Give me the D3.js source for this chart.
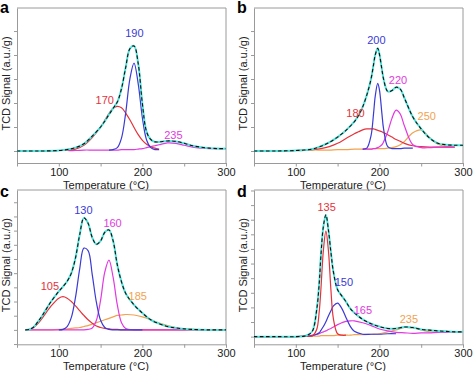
<!DOCTYPE html>
<html>
<head>
<meta charset="utf-8">
<script src="https://cdnjs.cloudflare.com/ajax/libs/d3/7.8.5/d3.min.js"></script>
<style>
  html, body { margin: 0; padding: 0; background: #fff; }
  svg { display: block; font-family: "Liberation Sans", Arial, sans-serif; }
</style>
</head>
<body>
<svg id="chart" width="474" height="371"></svg>
<script>
// ---- data (signal in arbitrary units) ----
// panel a
const tempA = [50, 75, 100, 110, 120, 130, 140, 150, 155, 160, 165, 170, 175, 180, 185, 190, 195, 200, 205, 210, 215, 220, 230, 240, 250, 260, 270, 280, 290, 300];
const totalA = [0, 0, 0.01, 0.03, 0.07, 0.15, 0.31, 0.50, 0.62, 0.76, 0.89, 1.02, 1.30, 1.74, 2.13, 2.19, 1.82, 0.98, 0.40, 0.24, 0.19, 0.19, 0.21, 0.20, 0.16, 0.11, 0.08, 0.06, 0.05, 0.05];
const redA = [0, 0, 0.01, 0.02, 0.04, 0.12, 0.28, 0.50, 0.64, 0.78, 0.89, 0.93, 0.90, 0.79, 0.65, 0.49, 0.34, 0.22, 0.14, 0.09, 0.06, 0.04, null, null, null, null, null, null, null, null];
const blueA = [null, null, null, null, null, null, null, null, null, 0.02, 0.03, 0.07, 0.27, 0.79, 1.50, 1.83, 1.40, 0.69, 0.23, 0.07, 0.03, 0.03, null, null, null, null, null, null, null, null];
const magentaA = [0, 0, 0.01, 0.01, 0.01, 0.02, 0.02, 0.02, 0.02, 0.02, 0.02, 0.02, 0.03, 0.03, 0.03, 0.03, 0.04, 0.05, 0.07, 0.09, 0.11, 0.13, 0.17, 0.16, 0.12, 0.08, 0.06, 0.05, 0.05, 0.05];

// panel b
const tempB = [50, 75, 100, 110, 120, 130, 140, 150, 160, 170, 175, 180, 185, 190, 193, 195, 198, 200, 203, 205, 210, 215, 220, 225, 230, 240, 250, 260, 270, 280, 290, 300];
const totalB = [0, 0, 0.01, 0.02, 0.04, 0.10, 0.18, 0.29, 0.43, 0.61, 0.74, 0.92, 1.17, 1.50, 1.80, 2.00, 2.14, 2.02, 1.70, 1.50, 1.24, 1.26, 1.33, 1.29, 1.10, 0.71, 0.46, 0.27, 0.16, 0.13, 0.12, 0.12];
const redB = [0, 0, 0.01, 0.02, 0.03, 0.05, 0.09, 0.16, 0.26, 0.36, 0.40, 0.44, 0.46, 0.46, 0.46, 0.45, 0.43, 0.42, 0.40, 0.38, 0.34, 0.29, 0.24, 0.20, 0.16, 0.11, 0.09, 0.08, 0.08, 0.08, 0.08, null];
const blueB = [null, null, null, null, null, null, null, null, null, null, null, 0.04, 0.06, 0.32, 0.78, 1.14, 1.41, 1.28, 0.78, 0.46, 0.09, 0.05, 0.05, 0.05, 0.06, 0.06, null, null, null, null, null, null];
const magentaB = [null, null, null, null, null, null, null, null, null, null, null, 0.04, 0.04, 0.04, 0.05, 0.05, 0.07, 0.09, 0.13, 0.19, 0.40, 0.68, 0.85, 0.77, 0.52, 0.13, 0.07, 0.07, 0.08, 0.08, 0.08, null];
const orangeB = [0, 0, 0.01, 0.01, 0.02, 0.02, 0.02, 0.03, 0.03, 0.04, 0.04, 0.04, 0.04, 0.04, 0.05, 0.05, 0.05, 0.05, 0.05, 0.05, 0.06, 0.07, 0.09, 0.13, 0.20, 0.38, 0.44, 0.28, 0.14, 0.09, 0.08, null];

// panel c
const tempC = [60, 65, 70, 75, 80, 90, 100, 105, 110, 115, 120, 125, 130, 135, 140, 145, 150, 155, 160, 165, 170, 175, 180, 190, 200, 210, 220, 230, 240, 250, 260, 280, 300];
const totalC = [0, 0.01, 0.06, 0.17, 0.29, 0.57, 0.80, 0.90, 1.01, 1.18, 1.50, 1.98, 2.33, 2.22, 1.92, 1.78, 1.85, 2.03, 2.08, 1.85, 1.35, 1.00, 0.76, 0.52, 0.35, 0.21, 0.13, 0.07, 0.04, 0.02, 0.01, 0, 0];
const redC = [0, 0.01, 0.05, 0.13, 0.24, 0.48, 0.66, 0.69, 0.66, 0.59, 0.50, 0.40, 0.30, 0.21, 0.14, 0.08, 0.05, 0.03, 0.02, 0.01, 0.01, 0, 0, 0, 0, 0, 0, 0, 0, 0, 0, 0, 0];
const blueC = [null, null, null, null, null, null, 0, 0.01, 0.07, 0.26, 0.68, 1.27, 1.70, 1.65, 1.15, 0.57, 0.20, 0.05, 0.01, 0, 0, 0, 0, 0, 0, null, null, null, null, null, null, null, null];
const magentaC = [0, 0, 0, 0, 0, 0, 0, 0, 0, 0, 0, 0, 0, 0.01, 0.04, 0.20, 0.62, 1.20, 1.45, 1.09, 0.52, 0.15, 0.03, 0, 0, 0, 0, 0, 0, 0, 0, 0, 0];
const orangeC = [0, 0, 0, 0, 0, 0, 0.01, 0.01, 0.02, 0.03, 0.04, 0.05, 0.07, 0.09, 0.12, 0.15, 0.18, 0.21, 0.24, 0.27, 0.30, 0.31, 0.32, 0.31, 0.27, 0.21, 0.14, 0.09, 0.05, 0.02, 0.01, 0, 0];

// panel d
const tempD = [50, 75, 100, 110, 115, 120, 125, 128, 130, 133, 136, 139, 142, 145, 150, 155, 160, 165, 170, 180, 190, 200, 210, 220, 230, 240, 250, 260, 270, 280, 290, 300];
const totalD = [0, 0, 0, 0.01, 0.04, 0.12, 0.56, 1.11, 1.68, 2.30, 2.54, 2.23, 1.76, 1.35, 0.98, 0.85, 0.73, 0.59, 0.50, 0.36, 0.27, 0.21, 0.17, 0.17, 0.20, 0.19, 0.15, 0.135, 0.12, 0.11, 0.10, 0.10];
const redD = [0, 0, 0, 0.01, 0.01, 0.02, 0.15, 0.52, 0.98, 1.80, 2.20, 1.80, 0.98, 0.37, 0.06, 0.03, 0.03, null, null, null, null, null, null, null, null, null, null, null, null, null, null, null];
const blueD = [null, null, null, 0.01, 0.01, 0.02, 0.05, 0.08, 0.13, 0.21, 0.31, 0.43, 0.54, 0.64, 0.70, 0.59, 0.40, 0.22, 0.11, 0.05, 0.05, 0.05, 0.06, 0.06, null, null, null, null, null, null, null, null];
const magentaD = [0, 0, 0, 0.01, 0.02, 0.03, 0.05, 0.06, 0.08, 0.10, 0.12, 0.15, 0.17, 0.20, 0.25, 0.29, 0.32, 0.33, 0.33, 0.29, 0.23, 0.16, 0.12, 0.09, 0.08, 0.07, 0.08, 0.08, 0.09, 0.09, 0.10, 0.10];
const orangeD = [0, 0, 0, 0.01, 0.01, 0.01, 0.01, 0.01, 0.02, 0.02, 0.02, 0.02, 0.02, 0.02, 0.03, 0.03, 0.03, 0.03, 0.04, 0.04, 0.05, 0.06, 0.10, 0.14, 0.19, 0.18, 0.14, 0.10, 0.09, 0.09, 0.10, 0.10];

// peak labels (temperatures shown on the chart)
const peaksA = ['170', '190', '235'];
const peaksB = ['180', '200', '220', '250'];
const peaksC = ['105', '130', '160', '185'];
const peaksD = ['135', '150', '165', '235'];

const xTicks = [50, 100, 150, 200, 250, 300];

const COLORS = {
    red: '#e5323b',
    blue: '#3a3ad6',
    magenta: '#e13ae0',
    orange: '#f2a24f',
    cyan: '#52e2da',
    axis: '#9a9a9a',
    text: '#222'
};

// layout of the 2x2 grid; label anchors are in data units (temp, signal)
const panels = [
    { letter: 'a', x0: 17, x1: 226, yTop: 8, yBot: 163, yDomain: [-0.25, 2.98], yStep: 0.5, letterY: 12.5,
      temps: tempA, total: totalA,
      series: [['magenta', magentaA], ['red', redA], ['blue', blueA]],
      labels: [[peaksA[0], 'red', 155, 0.98], [peaksA[1], 'blue', 190.4, 2.37], [peaksA[2], 'magenta', 237, 0.26]] },
    { letter: 'b', x0: 254, x1: 463, yTop: 8, yBot: 163, yDomain: [-0.25, 2.98], yStep: 0.5, letterY: 12.5,
      temps: tempB, total: totalB,
      series: [['orange', orangeB], ['red', redB], ['magenta', magentaB], ['blue', blueB]],
      labels: [[peaksB[0], 'red', 171.4, 0.71], [peaksB[1], 'blue', 196.4, 2.24], [peaksB[2], 'magenta', 222.2, 1.40], [peaksB[3], 'orange', 256.7, 0.64]] },
    { letter: 'c', x0: 17, x1: 226, yTop: 190, yBot: 344.3, yDomain: [-0.30, 2.91], yStep: 0.295, letterY: 197,
      temps: tempC, total: totalC,
      series: [['orange', orangeC], ['red', redC], ['magenta', magentaC], ['blue', blueC]],
      labels: [[peaksC[0], 'red', 89.3, 0.83], [peaksC[1], 'blue', 129.4, 2.42], [peaksC[2], 'magenta', 164.3, 2.13], [peaksC[3], 'orange', 194.4, 0.63]] },
    { letter: 'd', x0: 254, x1: 463, yTop: 190, yBot: 344.3, yDomain: [-0.16, 3.06], yStep: 0.305, letterY: 197,
      temps: tempD, total: totalD,
      series: [['orange', orangeD], ['magenta', magentaD], ['blue', blueD], ['red', redD]],
      labels: [[peaksD[0], 'red', 136.9, 2.62], [peaksD[1], 'blue', 157.5, 1.06], [peaksD[2], 'magenta', 180.2, 0.47], [peaksD[3], 'orange', 235.3, 0.28]] }
];

const svg = d3.select('#chart');

panels.forEach(p => {
    const x = d3.scaleLinear().domain([50, 300]).range([p.x0, p.x1]);
    const y = d3.scaleLinear().domain(p.yDomain).range([p.yBot, p.yTop]);
    const g = svg.append('g').attr('class', 'panel-' + p.letter);

    // frame (top and right sides)
    g.append('path')
        .attr('d', `M${p.x0},${p.yTop}H${p.x1}V${p.yBot}`)
        .attr('fill', 'none')
        .attr('stroke', COLORS.axis)
        .attr('stroke-width', 1);

    // x axis
    const xAxis = g.append('g')
        .attr('transform', `translate(0,${p.yBot})`)
        .call(d3.axisBottom(x).tickValues(xTicks).tickSize(3.5).tickSizeOuter(0).tickPadding(1.5)
            .tickFormat(d => d % 100 === 0 ? d : ''));
    xAxis.selectAll('path, line').attr('stroke', COLORS.axis);
    xAxis.selectAll('text').attr('fill', COLORS.text).style('font-size', '11px')
        .style('font-family', '"Liberation Sans", Arial, sans-serif');

    // y axis, ticks only
    const first = Math.ceil(p.yDomain[0] / p.yStep);
    const yTicks = d3.range(first, Math.floor(p.yDomain[1] / p.yStep) + 1).map(k => k * p.yStep);
    const yAxis = g.append('g')
        .attr('transform', `translate(${p.x0},0)`)
        .call(d3.axisLeft(y).tickValues(yTicks).tickSize(3).tickSizeOuter(0).tickFormat(''));
    yAxis.selectAll('path, line').attr('stroke', COLORS.axis);

    // axis titles
    g.append('text')
        .attr('x', p.x0 + 89)
        .attr('y', p.yBot + 25.5)
        .attr('text-anchor', 'middle')
        .attr('fill', COLORS.text)
        .style('font-size', '11.2px')
        .text('Temperature (°C)');

    g.append('text')
        .attr('transform', `translate(${p.x0 - 7.5},${(p.yTop + p.yBot) / 2 - 2}) rotate(-90)`)
        .attr('text-anchor', 'middle')
        .attr('fill', COLORS.text)
        .style('font-size', '11px')
        .text('TCD Signal (a.u./g)');

    g.append('text')
        .attr('x', p.x0 - 17)
        .attr('y', p.letterY)
        .attr('fill', '#000')
        .style('font-size', '16px')
        .style('font-weight', 'bold')
        .text(p.letter);

    const line = d3.line()
        .defined(d => d[1] != null)
        .x(d => x(d[0]))
        .y(d => y(d[1]))
        .curve(d3.curveCatmullRom.alpha(0.5));

    // deconvoluted components
    p.series.forEach(([color, values]) => {
        g.append('path')
            .datum(d3.zip(p.temps, values))
            .attr('d', line)
            .attr('fill', 'none')
            .attr('stroke', COLORS[color])
            .attr('stroke-width', 1.2);
    });

    // envelope: cyan under black dashes
    const totalData = d3.zip(p.temps, p.total);
    g.append('path')
        .datum(totalData)
        .attr('d', line)
        .attr('fill', 'none')
        .attr('stroke', COLORS.cyan)
        .attr('stroke-width', 2);
    g.append('path')
        .datum(totalData)
        .attr('d', line)
        .attr('fill', 'none')
        .attr('stroke', '#111')
        .attr('stroke-width', 1.1)
        .attr('stroke-dasharray', '3.5,2.5');

    // peak temperature labels
    g.selectAll('text.peak')
        .data(p.labels)
        .enter().append('text')
        .attr('class', 'peak')
        .attr('x', d => x(d[2]))
        .attr('y', d => y(d[3]))
        .attr('text-anchor', 'middle')
        .attr('fill', d => COLORS[d[1]])
        .style('font-size', '11px')
        .text(d => d[0]);
});
</script>
</body>
</html>
